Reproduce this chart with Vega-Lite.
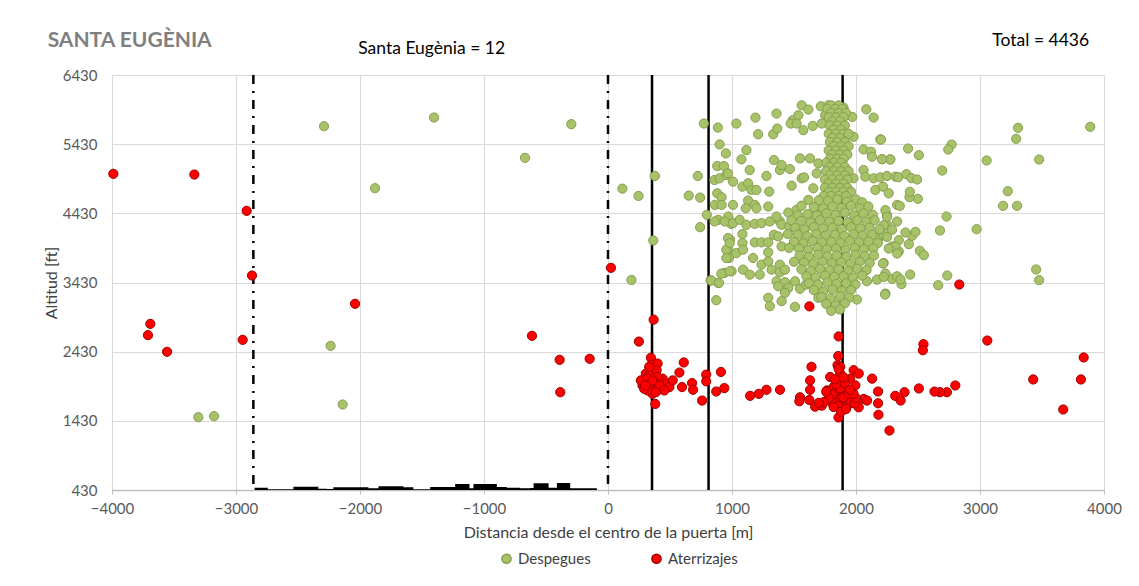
{
  "$schema": "https://vega.github.io/schema/vega-lite/v6.json",
  "width": 992,
  "height": 415,
  "autosize": {"type": "none"},
  "padding": {"left": 112, "top": 75, "right": 35, "bottom": 96},
  "background": "white",
  "config": {
    "font": "Lato",
    "view": {"stroke": null},
    "axis": {"labelFont": "Lato", "titleFont": "Lato", "labelFontSize": 15, "titleFontSize": 16, "labelColor": "#595959", "titleColor": "#404040", "titleFontWeight": "normal", "gridColor": "#D9D9D9", "gridWidth": 1},
    "legend": {"labelFont": "Lato"}
  },
  "datasets": {
    "rotulos": [{"t": "SANTA EUGÈNIA"}, {"t": "Santa Eugènia = 12"}, {"t": "Total = 4436"}],
    "terreno": [
      {"x": -2850, "y": 464}, {"x": -2744, "y": 440}, {"x": -2537, "y": 478}, {"x": -2336, "y": 449},
      {"x": -2268, "y": 445}, {"x": -2215, "y": 469}, {"x": -1932, "y": 454}, {"x": -1851, "y": 483},
      {"x": -1650, "y": 469}, {"x": -1570, "y": 440}, {"x": -1434, "y": 473}, {"x": -1233, "y": 517},
      {"x": -1117, "y": 454}, {"x": -1085, "y": 517}, {"x": -896, "y": 473}, {"x": -816, "y": 464},
      {"x": -708, "y": 454}, {"x": -628, "y": 460}, {"x": -600, "y": 526}, {"x": -479, "y": 464},
      {"x": -412, "y": 531}, {"x": -305, "y": 454}, {"x": -90, "y": 430}
    ],
    "puerta": [{"x": -2860}, {"x": 0}],
    "referencias": [{"x": 355}, {"x": 811}, {"x": 1892}],
    "vuelos": [
      {"x":-2290,"y":5690,"s":"D"},{"x":-1879,"y":4794,"s":"D"},{"x":-2237,"y":2514,"s":"D"},{"x":-2140,"y":1666,"s":"D"},{"x":-3304,"y":1483,"s":"D"},{"x":-3177,"y":1498,"s":"D"},{"x":-1403,"y":5815,"s":"D"},{"x":-296,"y":5719,"s":"D"},{"x":-669,"y":5232,"s":"D"},
      {"x":116,"y":4787,"s":"D"},{"x":246,"y":4682,"s":"D"},{"x":378,"y":4970,"s":"D"},{"x":365,"y":4038,"s":"D"},{"x":189,"y":3467,"s":"D"},
      {"x":773,"y":5728,"s":"D"},{"x":886,"y":5670,"s":"D"},{"x":1035,"y":5728,"s":"D"},{"x":724,"y":4970,"s":"D"},{"x":651,"y":4686,"s":"D"},{"x":743,"y":4658,"s":"D"},{"x":797,"y":4408,"s":"D"},{"x":743,"y":4230,"s":"D"},{"x":827,"y":3462,"s":"D"},{"x":889,"y":3424,"s":"D"},{"x":873,"y":3174,"s":"D"},{"x":900,"y":5426,"s":"D"},{"x":951,"y":5296,"s":"D"},{"x":881,"y":5114,"s":"D"},{"x":935,"y":5114,"s":"D"},{"x":859,"y":4912,"s":"D"},{"x":900,"y":4936,"s":"D"},{"x":954,"y":4984,"s":"D"},{"x":881,"y":4720,"s":"D"},{"x":916,"y":4662,"s":"D"},{"x":862,"y":4552,"s":"D"},{"x":916,"y":4552,"s":"D"},{"x":889,"y":4336,"s":"D"},{"x":970,"y":4384,"s":"D"},{"x":992,"y":4278,"s":"D"},{"x":984,"y":4048,"s":"D"},{"x":970,"y":3904,"s":"D"},{"x":976,"y":3784,"s":"D"},{"x":938,"y":3568,"s":"D"},{"x":997,"y":3592,"s":"D"},
      {"x":1562,"y":5992,"s":"D"},{"x":1616,"y":5930,"s":"D"},{"x":1716,"y":5978,"s":"D"},{"x":1778,"y":5992,"s":"D"},{"x":1832,"y":5968,"s":"D"},{"x":1900,"y":5958,"s":"D"},{"x":2083,"y":5934,"s":"D"},{"x":2142,"y":5814,"s":"D"},{"x":1970,"y":5824,"s":"D"},{"x":1359,"y":5872,"s":"D"},{"x":1189,"y":5814,"s":"D"},{"x":1211,"y":5574,"s":"D"},{"x":1332,"y":5574,"s":"D"},{"x":1365,"y":5656,"s":"D"},{"x":1489,"y":5776,"s":"D"},{"x":1473,"y":5728,"s":"D"},{"x":1535,"y":5848,"s":"D"},{"x":1521,"y":5728,"s":"D"},{"x":1575,"y":5632,"s":"D"},{"x":1651,"y":5694,"s":"D"},{"x":1724,"y":5728,"s":"D"},{"x":1751,"y":5848,"s":"D"},{"x":2196,"y":5498,"s":"D"},{"x":1980,"y":5536,"s":"D"},{"x":1116,"y":5344,"s":"D"},{"x":1076,"y":5210,"s":"D"},{"x":1338,"y":5200,"s":"D"},{"x":1548,"y":5224,"s":"D"},{"x":1629,"y":5224,"s":"D"},{"x":1697,"y":5152,"s":"D"},{"x":2061,"y":5354,"s":"D"},{"x":2121,"y":5320,"s":"D"},{"x":2129,"y":5248,"s":"D"},{"x":2210,"y":5214,"s":"D"},{"x":2277,"y":5210,"s":"D"},{"x":1143,"y":5056,"s":"D"},{"x":1386,"y":5056,"s":"D"},{"x":1467,"y":5070,"s":"D"},{"x":1400,"y":5128,"s":"D"},{"x":1278,"y":4970,"s":"D"},{"x":1008,"y":4888,"s":"D"},{"x":968,"y":5008,"s":"D"},{"x":1084,"y":4816,"s":"D"},{"x":1130,"y":4864,"s":"D"},{"x":1157,"y":4768,"s":"D"},{"x":1197,"y":4768,"s":"D"},{"x":1300,"y":4744,"s":"D"},{"x":1481,"y":4830,"s":"D"},{"x":1562,"y":4936,"s":"D"},{"x":1581,"y":4950,"s":"D"},{"x":1656,"y":4792,"s":"D"},{"x":1683,"y":5008,"s":"D"},{"x":1980,"y":4936,"s":"D"},{"x":2061,"y":5056,"s":"D"},{"x":2075,"y":4960,"s":"D"},{"x":2142,"y":4936,"s":"D"},{"x":2196,"y":4950,"s":"D"},{"x":2250,"y":4970,"s":"D"},{"x":2318,"y":4960,"s":"D"},{"x":2156,"y":4768,"s":"D"},{"x":2218,"y":4816,"s":"D"},{"x":2264,"y":4720,"s":"D"},
      {"x":1008,"y":4552,"s":"D"},{"x":1130,"y":4614,"s":"D"},{"x":1184,"y":4552,"s":"D"},{"x":1292,"y":4528,"s":"D"},{"x":1111,"y":4504,"s":"D"},{"x":1197,"y":4504,"s":"D"},{"x":1386,"y":4312,"s":"D"},{"x":1454,"y":4442,"s":"D"},{"x":1521,"y":4480,"s":"D"},{"x":1616,"y":4624,"s":"D"},{"x":1670,"y":4504,"s":"D"},{"x":2331,"y":4552,"s":"D"},{"x":2331,"y":4312,"s":"D"},{"x":2250,"y":4408,"s":"D"},{"x":860,"y":4312,"s":"D"},{"x":941,"y":4312,"s":"D"},{"x":1008,"y":4288,"s":"D"},{"x":1062,"y":4336,"s":"D"},{"x":1116,"y":4264,"s":"D"},{"x":1184,"y":4278,"s":"D"},{"x":1238,"y":4288,"s":"D"},{"x":1305,"y":4312,"s":"D"},{"x":1359,"y":4384,"s":"D"},{"x":1400,"y":4264,"s":"D"},{"x":1462,"y":4240,"s":"D"},
      {"x":968,"y":4072,"s":"D"},{"x":954,"y":3904,"s":"D"},{"x":981,"y":4000,"s":"D"},{"x":1084,"y":4130,"s":"D"},{"x":1084,"y":4000,"s":"D"},{"x":1035,"y":3856,"s":"D"},{"x":1089,"y":3904,"s":"D"},{"x":1184,"y":4010,"s":"D"},{"x":1238,"y":4010,"s":"D"},{"x":1292,"y":4010,"s":"D"},{"x":1292,"y":3866,"s":"D"},{"x":1338,"y":4120,"s":"D"},{"x":1373,"y":4096,"s":"D"},{"x":1400,"y":3952,"s":"D"},{"x":954,"y":3784,"s":"D"},{"x":1170,"y":3784,"s":"D"},{"x":1238,"y":3688,"s":"D"},{"x":1292,"y":3736,"s":"D"},{"x":1319,"y":3616,"s":"D"},{"x":1386,"y":3688,"s":"D"},{"x":1386,"y":3578,"s":"D"},{"x":1427,"y":3616,"s":"D"},{"x":914,"y":3558,"s":"D"},{"x":981,"y":3592,"s":"D"},{"x":1089,"y":3616,"s":"D"},{"x":1143,"y":3544,"s":"D"},{"x":1224,"y":3544,"s":"D"},{"x":833,"y":3458,"s":"D"},{"x":895,"y":3424,"s":"D"},
      {"x":1359,"y":3448,"s":"D"},{"x":1427,"y":3434,"s":"D"},{"x":1373,"y":3376,"s":"D"},{"x":1454,"y":3352,"s":"D"},{"x":1508,"y":3448,"s":"D"},{"x":1548,"y":3338,"s":"D"},{"x":1597,"y":3400,"s":"D"},{"x":1292,"y":3208,"s":"D"},{"x":1305,"y":3088,"s":"D"},{"x":1427,"y":3280,"s":"D"},{"x":1400,"y":3160,"s":"D"},{"x":1508,"y":3078,"s":"D"},{"x":1697,"y":3208,"s":"D"},{"x":1764,"y":3136,"s":"D"},{"x":1900,"y":3160,"s":"D"},{"x":2007,"y":3184,"s":"D"},{"x":2088,"y":3448,"s":"D"},{"x":2169,"y":3472,"s":"D"},{"x":2237,"y":3270,"s":"D"},{"x":2291,"y":3482,"s":"D"},{"x":2331,"y":3520,"s":"D"},{"x":2223,"y":3712,"s":"D"},{"x":2291,"y":3952,"s":"D"},{"x":2345,"y":3880,"s":"D"},{"x":2183,"y":4072,"s":"D"},{"x":2223,"y":4120,"s":"D"},{"x":2250,"y":4264,"s":"D"},{"x":2291,"y":4192,"s":"D"},
      {"x":2771,"y":5425,"s":"D"},{"x":2744,"y":5353,"s":"D"},{"x":2695,"y":5049,"s":"D"},{"x":2507,"y":5271,"s":"D"},{"x":2420,"y":5367,"s":"D"},{"x":2730,"y":4384,"s":"D"},{"x":2677,"y":4182,"s":"D"},{"x":2736,"y":3531,"s":"D"},{"x":2663,"y":3391,"s":"D"},{"x":2515,"y":3888,"s":"D"},{"x":2547,"y":3825,"s":"D"},{"x":2437,"y":3545,"s":"D"},{"x":2367,"y":3406,"s":"D"},{"x":2359,"y":3473,"s":"D"},{"x":2235,"y":3256,"s":"D"},{"x":2218,"y":3704,"s":"D"},{"x":2426,"y":3984,"s":"D"},{"x":2453,"y":4105,"s":"D"},{"x":2480,"y":4162,"s":"D"},{"x":2399,"y":4153,"s":"D"},{"x":2345,"y":4042,"s":"D"},{"x":2353,"y":4538,"s":"D"},{"x":2499,"y":4640,"s":"D"},{"x":2431,"y":4664,"s":"D"},{"x":2434,"y":4741,"s":"D"},{"x":2342,"y":4953,"s":"D"},{"x":2407,"y":4996,"s":"D"},{"x":2448,"y":4938,"s":"D"},{"x":2493,"y":4919,"s":"D"},{"x":2275,"y":5208,"s":"D"},{"x":2210,"y":5213,"s":"D"},{"x":2202,"y":5497,"s":"D"},{"x":2318,"y":3945,"s":"D"},{"x":2264,"y":3921,"s":"D"},{"x":2332,"y":3849,"s":"D"},{"x":2251,"y":4090,"s":"D"},{"x":2237,"y":4476,"s":"D"},{"x":2251,"y":4379,"s":"D"},{"x":2224,"y":4259,"s":"D"},{"x":2237,"y":3560,"s":"D"},{"x":2224,"y":3512,"s":"D"},
      {"x":3307,"y":5666,"s":"D"},{"x":3291,"y":5507,"s":"D"},{"x":3889,"y":5681,"s":"D"},{"x":3477,"y":5208,"s":"D"},{"x":3054,"y":5194,"s":"D"},{"x":3224,"y":4750,"s":"D"},{"x":3186,"y":4538,"s":"D"},{"x":3299,"y":4538,"s":"D"},{"x":2973,"y":4201,"s":"D"},{"x":3453,"y":3618,"s":"D"},{"x":3477,"y":3464,"s":"D"},
      {"x":1800,"y":5990,"s":"D"},{"x":1860,"y":5990,"s":"D"},{"x":1770,"y":5940,"s":"D"},{"x":1830,"y":5940,"s":"D"},{"x":1890,"y":5940,"s":"D"},{"x":1800,"y":5880,"s":"D"},{"x":1860,"y":5880,"s":"D"},{"x":1920,"y":5880,"s":"D"},{"x":1780,"y":5820,"s":"D"},{"x":1840,"y":5820,"s":"D"},{"x":1900,"y":5820,"s":"D"},{"x":1810,"y":5760,"s":"D"},{"x":1870,"y":5760,"s":"D"},{"x":1790,"y":5700,"s":"D"},{"x":1850,"y":5700,"s":"D"},{"x":1910,"y":5700,"s":"D"},{"x":1820,"y":5640,"s":"D"},{"x":1880,"y":5640,"s":"D"},{"x":1780,"y":5580,"s":"D"},{"x":1840,"y":5580,"s":"D"},{"x":1900,"y":5580,"s":"D"},{"x":1940,"y":5580,"s":"D"},{"x":1810,"y":5520,"s":"D"},{"x":1870,"y":5520,"s":"D"},{"x":1790,"y":5460,"s":"D"},{"x":1850,"y":5460,"s":"D"},{"x":1910,"y":5460,"s":"D"},{"x":1820,"y":5400,"s":"D"},{"x":1880,"y":5400,"s":"D"},{"x":1940,"y":5400,"s":"D"},{"x":1780,"y":5340,"s":"D"},{"x":1840,"y":5340,"s":"D"},{"x":1900,"y":5340,"s":"D"},{"x":1810,"y":5280,"s":"D"},{"x":1870,"y":5280,"s":"D"},{"x":1930,"y":5280,"s":"D"},{"x":1790,"y":5220,"s":"D"},{"x":1850,"y":5220,"s":"D"},{"x":1900,"y":5220,"s":"D"},{"x":1760,"y":5160,"s":"D"},{"x":1820,"y":5160,"s":"D"},{"x":1880,"y":5160,"s":"D"},{"x":1790,"y":5100,"s":"D"},{"x":1850,"y":5100,"s":"D"},{"x":1910,"y":5100,"s":"D"},{"x":1760,"y":5040,"s":"D"},{"x":1820,"y":5040,"s":"D"},{"x":1880,"y":5040,"s":"D"},{"x":1940,"y":5040,"s":"D"},{"x":1790,"y":4980,"s":"D"},{"x":1850,"y":4980,"s":"D"},{"x":1910,"y":4980,"s":"D"},{"x":1750,"y":4920,"s":"D"},{"x":1810,"y":4920,"s":"D"},{"x":1870,"y":4920,"s":"D"},{"x":1930,"y":4920,"s":"D"},{"x":1780,"y":4860,"s":"D"},{"x":1840,"y":4860,"s":"D"},{"x":1900,"y":4860,"s":"D"},{"x":1750,"y":4800,"s":"D"},{"x":1810,"y":4800,"s":"D"},{"x":1870,"y":4800,"s":"D"},{"x":1930,"y":4800,"s":"D"},{"x":1780,"y":4740,"s":"D"},{"x":1840,"y":4740,"s":"D"},{"x":1900,"y":4740,"s":"D"},{"x":1960,"y":4740,"s":"D"},{"x":1740,"y":4680,"s":"D"},{"x":1800,"y":4680,"s":"D"},{"x":1860,"y":4680,"s":"D"},{"x":1920,"y":4680,"s":"D"},
      {"x":1700,"y":4620,"s":"D"},{"x":1775,"y":4610,"s":"D"},{"x":1850,"y":4630,"s":"D"},{"x":1925,"y":4600,"s":"D"},{"x":2000,"y":4630,"s":"D"},{"x":2050,"y":4590,"s":"D"},
      {"x":1560,"y":4540,"s":"D"},{"x":1660,"y":4520,"s":"D"},{"x":1735,"y":4500,"s":"D"},{"x":1810,"y":4530,"s":"D"},{"x":1885,"y":4510,"s":"D"},{"x":1960,"y":4540,"s":"D"},{"x":2035,"y":4500,"s":"D"},{"x":2100,"y":4530,"s":"D"},
      {"x":1530,"y":4400,"s":"D"},{"x":1610,"y":4420,"s":"D"},{"x":1685,"y":4400,"s":"D"},{"x":1760,"y":4430,"s":"D"},{"x":1835,"y":4410,"s":"D"},{"x":1910,"y":4440,"s":"D"},{"x":1985,"y":4400,"s":"D"},{"x":2060,"y":4430,"s":"D"},{"x":2135,"y":4410,"s":"D"},
      {"x":1480,"y":4330,"s":"D"},{"x":1560,"y":4320,"s":"D"},{"x":1635,"y":4300,"s":"D"},{"x":1710,"y":4330,"s":"D"},{"x":1785,"y":4310,"s":"D"},{"x":1860,"y":4320,"s":"D"},{"x":1935,"y":4300,"s":"D"},{"x":2010,"y":4330,"s":"D"},{"x":2085,"y":4310,"s":"D"},{"x":2150,"y":4330,"s":"D"},
      {"x":1510,"y":4220,"s":"D"},{"x":1585,"y":4200,"s":"D"},{"x":1660,"y":4230,"s":"D"},{"x":1735,"y":4210,"s":"D"},{"x":1810,"y":4220,"s":"D"},{"x":1885,"y":4200,"s":"D"},{"x":1960,"y":4230,"s":"D"},{"x":2035,"y":4210,"s":"D"},{"x":2110,"y":4220,"s":"D"},{"x":2190,"y":4200,"s":"D"},
      {"x":1450,"y":4130,"s":"D"},{"x":1530,"y":4120,"s":"D"},{"x":1605,"y":4100,"s":"D"},{"x":1680,"y":4130,"s":"D"},{"x":1755,"y":4110,"s":"D"},{"x":1830,"y":4120,"s":"D"},{"x":1905,"y":4100,"s":"D"},{"x":1980,"y":4130,"s":"D"},{"x":2055,"y":4110,"s":"D"},{"x":2130,"y":4120,"s":"D"},
      {"x":1500,"y":4020,"s":"D"},{"x":1575,"y":4000,"s":"D"},{"x":1650,"y":4030,"s":"D"},{"x":1725,"y":4010,"s":"D"},{"x":1800,"y":4020,"s":"D"},{"x":1875,"y":4000,"s":"D"},{"x":1950,"y":4030,"s":"D"},{"x":2025,"y":4010,"s":"D"},{"x":2100,"y":4020,"s":"D"},{"x":2175,"y":4000,"s":"D"},
      {"x":1460,"y":3930,"s":"D"},{"x":1540,"y":3920,"s":"D"},{"x":1615,"y":3900,"s":"D"},{"x":1690,"y":3930,"s":"D"},{"x":1765,"y":3910,"s":"D"},{"x":1840,"y":3920,"s":"D"},{"x":1915,"y":3900,"s":"D"},{"x":1990,"y":3930,"s":"D"},{"x":2065,"y":3910,"s":"D"},{"x":2140,"y":3920,"s":"D"},
      {"x":1545,"y":3820,"s":"D"},{"x":1620,"y":3800,"s":"D"},{"x":1695,"y":3830,"s":"D"},{"x":1770,"y":3810,"s":"D"},{"x":1845,"y":3820,"s":"D"},{"x":1920,"y":3800,"s":"D"},{"x":1995,"y":3830,"s":"D"},{"x":2070,"y":3810,"s":"D"},{"x":2145,"y":3820,"s":"D"},
      {"x":1500,"y":3730,"s":"D"},{"x":1580,"y":3720,"s":"D"},{"x":1655,"y":3700,"s":"D"},{"x":1730,"y":3730,"s":"D"},{"x":1805,"y":3710,"s":"D"},{"x":1880,"y":3720,"s":"D"},{"x":1955,"y":3700,"s":"D"},{"x":2030,"y":3730,"s":"D"},{"x":2110,"y":3710,"s":"D"},
      {"x":1560,"y":3620,"s":"D"},{"x":1635,"y":3600,"s":"D"},{"x":1710,"y":3630,"s":"D"},{"x":1785,"y":3610,"s":"D"},{"x":1860,"y":3620,"s":"D"},{"x":1935,"y":3600,"s":"D"},{"x":2010,"y":3630,"s":"D"},{"x":2085,"y":3610,"s":"D"},
      {"x":1600,"y":3520,"s":"D"},{"x":1675,"y":3500,"s":"D"},{"x":1750,"y":3530,"s":"D"},{"x":1825,"y":3510,"s":"D"},{"x":1900,"y":3520,"s":"D"},{"x":1975,"y":3500,"s":"D"},{"x":2050,"y":3530,"s":"D"},
      {"x":1620,"y":3420,"s":"D"},{"x":1695,"y":3400,"s":"D"},{"x":1770,"y":3430,"s":"D"},{"x":1845,"y":3410,"s":"D"},{"x":1920,"y":3420,"s":"D"},{"x":1995,"y":3400,"s":"D"},
      {"x":1660,"y":3320,"s":"D"},{"x":1735,"y":3300,"s":"D"},{"x":1810,"y":3330,"s":"D"},{"x":1885,"y":3310,"s":"D"},{"x":1960,"y":3320,"s":"D"},
      {"x":1720,"y":3220,"s":"D"},{"x":1795,"y":3200,"s":"D"},{"x":1870,"y":3230,"s":"D"},{"x":1945,"y":3210,"s":"D"},
      {"x":1760,"y":3120,"s":"D"},{"x":1835,"y":3100,"s":"D"},{"x":1910,"y":3130,"s":"D"},
      {"x":1800,"y":3020,"s":"D"},{"x":1870,"y":3040,"s":"D"},

      {"x":-3989,"y":5001,"s":"A"},{"x":-3336,"y":4991,"s":"A"},{"x":-2914,"y":4466,"s":"A"},{"x":-2871,"y":3531,"s":"A"},{"x":-2040,"y":3122,"s":"A"},{"x":-3691,"y":2832,"s":"A"},{"x":-3710,"y":2669,"s":"A"},{"x":-3556,"y":2428,"s":"A"},{"x":-2946,"y":2601,"s":"A"},{"x":24,"y":3642,"s":"A"},{"x":-613,"y":2659,"s":"A"},{"x":-390,"y":2312,"s":"A"},{"x":-148,"y":2327,"s":"A"},{"x":-385,"y":1844,"s":"A"},
      {"x":368,"y":2893,"s":"A"},{"x":249,"y":2576,"s":"A"},
      {"x":346,"y":2342,"s":"A"},{"x":351,"y":2245,"s":"A"},{"x":400,"y":2259,"s":"A"},{"x":392,"y":2162,"s":"A"},{"x":305,"y":2113,"s":"A"},{"x":332,"y":2089,"s":"A"},{"x":305,"y":1991,"s":"A"},{"x":278,"y":1942,"s":"A"},{"x":346,"y":1967,"s":"A"},{"x":373,"y":1918,"s":"A"},{"x":427,"y":1991,"s":"A"},{"x":441,"y":2040,"s":"A"},{"x":468,"y":1967,"s":"A"},{"x":495,"y":1918,"s":"A"},{"x":522,"y":2015,"s":"A"},{"x":359,"y":1820,"s":"A"},{"x":381,"y":1674,"s":"A"},{"x":319,"y":1869,"s":"A"},{"x":292,"y":1893,"s":"A"},{"x":427,"y":1893,"s":"A"},{"x":265,"y":2015,"s":"A"},{"x":400,"y":2064,"s":"A"},{"x":332,"y":2210,"s":"A"},{"x":319,"y":2040,"s":"A"},{"x":373,"y":1991,"s":"A"},{"x":414,"y":1942,"s":"A"},{"x":454,"y":1869,"s":"A"},{"x":300,"y":1942,"s":"A"},{"x":359,"y":2015,"s":"A"},{"x":386,"y":1845,"s":"A"},
      {"x":611,"y":2274,"s":"A"},{"x":576,"y":2128,"s":"A"},{"x":597,"y":1918,"s":"A"},{"x":678,"y":1976,"s":"A"},{"x":686,"y":1879,"s":"A"},{"x":759,"y":1723,"s":"A"},{"x":792,"y":2098,"s":"A"},{"x":792,"y":2001,"s":"A"},{"x":873,"y":1854,"s":"A"},{"x":911,"y":2137,"s":"A"},{"x":938,"y":1903,"s":"A"},{"x":1146,"y":1791,"s":"A"},{"x":1216,"y":1820,"s":"A"},{"x":1278,"y":1879,"s":"A"},{"x":1387,"y":1879,"s":"A"},
      {"x":1624,"y":3085,"s":"A"},
      {"x":1860,"y":2650,"s":"A"},{"x":1857,"y":2367,"s":"A"},{"x":1851,"y":2235,"s":"A"},{"x":1873,"y":2211,"s":"A"},{"x":1641,"y":2211,"s":"A"},{"x":1630,"y":2015,"s":"A"},{"x":1630,"y":1879,"s":"A"},{"x":1549,"y":1771,"s":"A"},{"x":1543,"y":1713,"s":"A"},{"x":1624,"y":1732,"s":"A"},{"x":1670,"y":1635,"s":"A"},{"x":1724,"y":1650,"s":"A"},{"x":1765,"y":1869,"s":"A"},{"x":1792,"y":2064,"s":"A"},{"x":1819,"y":1918,"s":"A"},{"x":1846,"y":2015,"s":"A"},{"x":1873,"y":2113,"s":"A"},{"x":1900,"y":1942,"s":"A"},{"x":1927,"y":1869,"s":"A"},{"x":1954,"y":2040,"s":"A"},{"x":1981,"y":2162,"s":"A"},{"x":2022,"y":2113,"s":"A"},{"x":1995,"y":1942,"s":"A"},{"x":2022,"y":1625,"s":"A"},{"x":2062,"y":1747,"s":"A"},{"x":2089,"y":1723,"s":"A"},{"x":2130,"y":2040,"s":"A"},{"x":2178,"y":1854,"s":"A"},{"x":2178,"y":1684,"s":"A"},{"x":2181,"y":1518,"s":"A"},{"x":2270,"y":1290,"s":"A"},{"x":2316,"y":1791,"s":"A"},{"x":2360,"y":1723,"s":"A"},{"x":1859,"y":1479,"s":"A"},
      {"x":1830,"y":1760,"s":"A"},{"x":1860,"y":1720,"s":"A"},{"x":1890,"y":1690,"s":"A"},{"x":1920,"y":1730,"s":"A"},{"x":1950,"y":1760,"s":"A"},{"x":1870,"y":1800,"s":"A"},{"x":1900,"y":1840,"s":"A"},{"x":1840,"y":1860,"s":"A"},{"x":1810,"y":1810,"s":"A"},{"x":1930,"y":1650,"s":"A"},{"x":1880,"y":1620,"s":"A"},{"x":1850,"y":1650,"s":"A"},{"x":1960,"y":1700,"s":"A"},{"x":1990,"y":1680,"s":"A"},{"x":1800,"y":1700,"s":"A"},{"x":1780,"y":1760,"s":"A"},{"x":1900,"y":1770,"s":"A"},{"x":1940,"y":1820,"s":"A"},{"x":1870,"y":1900,"s":"A"},{"x":1840,"y":1960,"s":"A"},{"x":1910,"y":1980,"s":"A"},{"x":1880,"y":1560,"s":"A"},{"x":1920,"y":1600,"s":"A"},{"x":1820,"y":1630,"s":"A"},{"x":2000,"y":1760,"s":"A"},{"x":1760,"y":1850,"s":"A"},{"x":1740,"y":1700,"s":"A"},{"x":1700,"y":1690,"s":"A"},{"x":1980,"y":1820,"s":"A"},{"x":1860,"y":2180,"s":"A"},{"x":1900,"y":2060,"s":"A"},{"x":1830,"y":2030,"s":"A"},{"x":1950,"y":1880,"s":"A"},
      {"x":2833,"y":3401,"s":"A"},{"x":2544,"y":2538,"s":"A"},{"x":2539,"y":2451,"s":"A"},{"x":3059,"y":2591,"s":"A"},{"x":3836,"y":2346,"s":"A"},{"x":3429,"y":2028,"s":"A"},{"x":3814,"y":2028,"s":"A"},{"x":3671,"y":1594,"s":"A"},{"x":2801,"y":1941,"s":"A"},{"x":2733,"y":1844,"s":"A"},{"x":2677,"y":1844,"s":"A"},{"x":2633,"y":1853,"s":"A"},{"x":2507,"y":1898,"s":"A"},{"x":2391,"y":1844,"s":"A"}
    ]
  },
  "layer": [
    {"data": {"name": "terreno"}, "mark": {"type": "area", "interpolate": "step-after", "color": "black"},
      "encoding": {
        "x": {"field": "x", "type": "quantitative",
          "scale": {"domain": [-4000, 4000], "nice": false, "zero": false},
          "axis": {"title": "Distancia desde el centro de la puerta [m]", "format": "d", "values": [-4000, -3000, -2000, -1000, 0, 1000, 2000, 3000, 4000], "domainColor": "#BFBFBF", "domainWidth": 1.5, "tickColor": "#BFBFBF", "tickSize": 4, "labelPadding": 7, "titlePadding": 8, "labelFlush": false}},
        "y": {"field": "y", "type": "quantitative",
          "scale": {"domain": [430, 6430], "nice": false, "zero": false},
          "axis": {"title": "Altitud [ft]", "format": "d", "values": [430, 1430, 2430, 3430, 4430, 5430, 6430], "domain": false, "ticks": false, "labelPadding": 15, "titlePadding": 3}},
        "y2": {"datum": 430}}},
    {"data": {"name": "puerta"}, "mark": {"type": "rule", "color": "black", "strokeWidth": 2.5, "strokeDash": [9, 7, 2, 7]},
      "encoding": {"x": {"field": "x", "type": "quantitative"}}},
    {"data": {"name": "referencias"}, "mark": {"type": "rule", "color": "black", "strokeWidth": 2.5},
      "encoding": {"x": {"field": "x", "type": "quantitative"}}},
    {"data": {"name": "vuelos"}, "mark": {"type": "point", "shape": "circle", "filled": true, "size": 85, "strokeWidth": 1, "opacity": 1},
      "encoding": {
        "x": {"field": "x", "type": "quantitative"},
        "y": {"field": "y", "type": "quantitative"},
        "fill": {"field": "s", "type": "nominal", "scale": {"domain": ["D", "A"], "range": ["#A6C36A", "#FF0000"]},
          "legend": {"title": null, "orient": "none", "legendX": 387, "legendY": 476, "direction": "horizontal", "labelExpr": "datum.label == 'D' ? 'Despegues' : 'Aterrizajes'", "labelFontSize": 15, "labelColor": "#404040", "symbolSize": 85, "symbolType": "circle", "columnPadding": 57}},
        "stroke": {"field": "s", "type": "nominal", "scale": {"domain": ["D", "A"], "range": ["#8A9D4E", "#A00000"]},
          "legend": {"title": null, "orient": "none", "legendX": 387, "legendY": 476, "direction": "horizontal", "labelExpr": "datum.label == 'D' ? 'Despegues' : 'Aterrizajes'", "labelFontSize": 15, "labelColor": "#404040", "symbolSize": 85, "symbolType": "circle", "columnPadding": 57}}
      }},
    {"data": {"name": "rotulos"}, "transform": [{"filter": "datum.t == 'SANTA EUGÈNIA'"}],
      "mark": {"type": "text", "align": "left", "baseline": "middle", "fontSize": 21, "fontWeight": "bold", "fill": "#7F7F7F"},
      "encoding": {"x": {"datum": -4519, "type": "quantitative"}, "y": {"datum": 6928, "type": "quantitative"}, "text": {"field": "t", "type": "nominal"}}},
    {"data": {"name": "rotulos"}, "transform": [{"filter": "datum.t == 'Santa Eugènia = 12'"}],
      "mark": {"type": "text", "align": "center", "baseline": "middle", "fontSize": 17.5, "fill": "#000000"},
      "encoding": {"x": {"datum": -1422, "type": "quantitative"}, "y": {"datum": 6813, "type": "quantitative"}, "text": {"field": "t", "type": "nominal"}}},
    {"data": {"name": "rotulos"}, "transform": [{"filter": "datum.t == 'Total = 4436'"}],
      "mark": {"type": "text", "align": "center", "baseline": "middle", "fontSize": 17.5, "fill": "#000000"},
      "encoding": {"x": {"datum": 3490, "type": "quantitative"}, "y": {"datum": 6928, "type": "quantitative"}, "text": {"field": "t", "type": "nominal"}}}
  ]
}
